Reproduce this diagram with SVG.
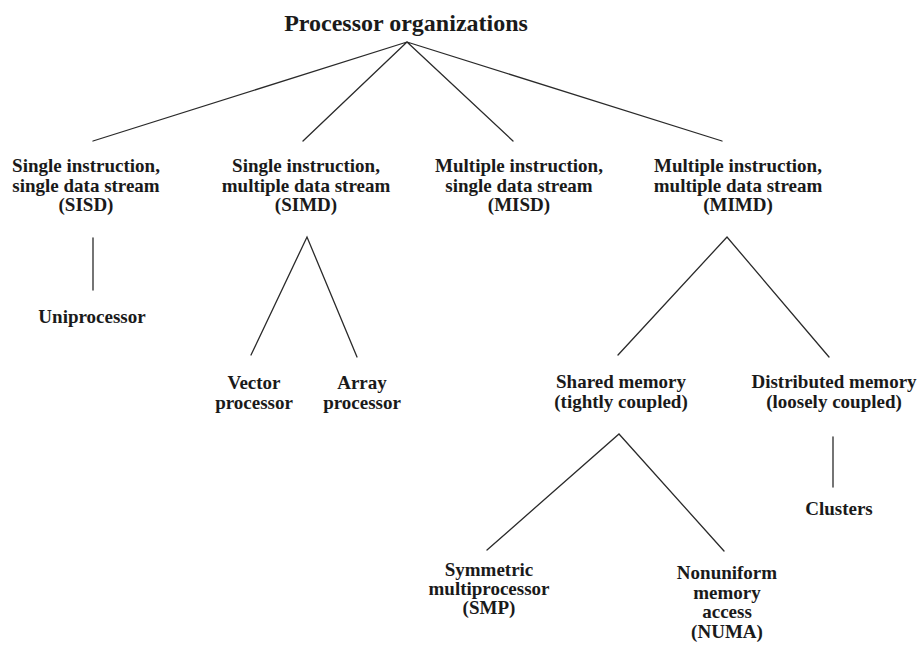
<svg xmlns="http://www.w3.org/2000/svg" width="919" height="646" viewBox="0 0 919 646">
  <style>
    .lbl { font-family: "Liberation Serif", "Times New Roman", serif; font-weight: bold; font-size: 19px; fill: #1a1a1a; text-anchor: middle; }
    .title { font-size: 24px; }
    .edge { stroke: #2a2a2a; stroke-width: 1.3; fill: none; stroke-linecap: round; }
  </style>
  <rect width="919" height="646" fill="#ffffff"/>

  <!-- tree edges -->
  <g id="connectors">
    <path class="edge" d="M93 141 L407 42 L303 141 M513 141 L407 42 L722 141"/>
    <path class="edge" d="M93 238 V290"/>
    <path class="edge" d="M251 355 L307 237 L357 357"/>
    <path class="edge" d="M618 355 L727 237 L829 357"/>
    <path class="edge" d="M487 550 L619 434 L724 551"/>
    <path class="edge" d="M833 437 V487"/>
  </g>

  <g id="root">
    <text class="lbl title" x="406" y="31">Processor organizations</text>
  </g>

  <g id="sisd">
    <text class="lbl" x="86" y="172">Single instruction,</text>
    <text class="lbl" x="86" y="191.5">single data stream</text>
    <text class="lbl" x="86" y="211">(SISD)</text>
  </g>
  <g id="simd">
    <text class="lbl" x="306" y="172">Single instruction,</text>
    <text class="lbl" x="306" y="191.5">multiple data stream</text>
    <text class="lbl" x="306" y="211">(SIMD)</text>
  </g>
  <g id="misd">
    <text class="lbl" x="519" y="172">Multiple instruction,</text>
    <text class="lbl" x="519" y="191.5">single data stream</text>
    <text class="lbl" x="519" y="211">(MISD)</text>
  </g>
  <g id="mimd">
    <text class="lbl" x="738" y="172">Multiple instruction,</text>
    <text class="lbl" x="738" y="191.5">multiple data stream</text>
    <text class="lbl" x="738" y="211">(MIMD)</text>
  </g>

  <g id="uniprocessor">
    <text class="lbl" x="92" y="323">Uniprocessor</text>
  </g>
  <g id="vector">
    <text class="lbl" x="254" y="389">Vector</text>
    <text class="lbl" x="254" y="409">processor</text>
  </g>
  <g id="array">
    <text class="lbl" x="362" y="389">Array</text>
    <text class="lbl" x="362" y="409">processor</text>
  </g>

  <g id="shared">
    <text class="lbl" x="621" y="388">Shared memory</text>
    <text class="lbl" x="621" y="407.5">(tightly coupled)</text>
  </g>
  <g id="distributed">
    <text class="lbl" x="834" y="388">Distributed memory</text>
    <text class="lbl" x="834" y="407.5">(loosely coupled)</text>
  </g>
  <g id="clusters">
    <text class="lbl" x="839" y="515">Clusters</text>
  </g>

  <g id="smp">
    <text class="lbl" x="489" y="576">Symmetric</text>
    <text class="lbl" x="489" y="595">multiprocessor</text>
    <text class="lbl" x="489" y="614">(SMP)</text>
  </g>
  <g id="numa">
    <text class="lbl" x="727" y="579">Nonuniform</text>
    <text class="lbl" x="727" y="598.5">memory</text>
    <text class="lbl" x="727" y="618">access</text>
    <text class="lbl" x="727" y="637.5">(NUMA)</text>
  </g>
</svg>
